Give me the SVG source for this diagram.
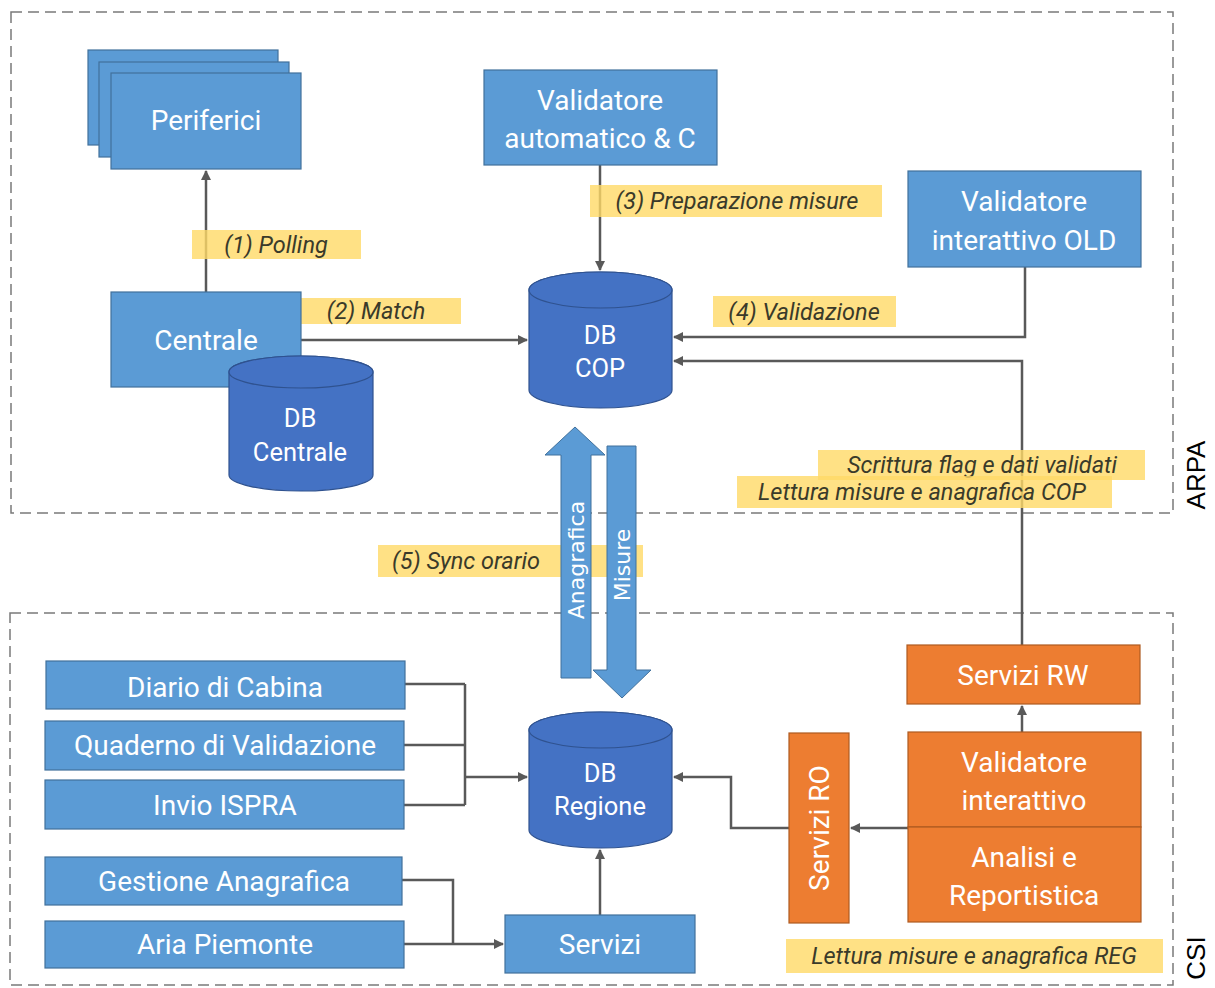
<svg xmlns="http://www.w3.org/2000/svg" width="1215" height="988" viewBox="0 0 1215 988">
<style>
.zone{fill:none;stroke:#7a7a7a;stroke-width:1.5;stroke-dasharray:11 6}
.box{fill:#5B9BD5;stroke:#41719C;stroke-width:1.2}
.obox{fill:#ED7D31;stroke:#AE5A21;stroke-width:1.2}
.db{fill:#4472C4;stroke:#2F528F;stroke-width:1.2}
.t{font-family:Roboto,"Liberation Sans",sans-serif;font-size:28px;fill:#fff;text-anchor:middle}
.d{font-size:25.5px}
.lbl{fill:#FFD966;fill-opacity:0.8}
.lt{font-family:Roboto,"Liberation Sans",sans-serif;font-style:italic;font-size:23.5px;fill:#3a3a2a;text-anchor:middle}
.con{fill:none;stroke:#595959;stroke-width:2.5}
.side{font-family:"Liberation Sans",Arial,sans-serif;font-size:26px;fill:#000;text-anchor:middle}
.sync{fill:#5B9BD5;stroke:#41719C;stroke-width:1}
.st{font-family:"DejaVu Sans",Verdana,sans-serif;font-size:22px;fill:#fff;text-anchor:middle}
</style>
<defs>
<marker id="arr" viewBox="0 0 10 10" refX="9" refY="5" markerWidth="4" markerHeight="4" orient="auto" markerUnits="strokeWidth">
<path d="M0,0 L10,5 L0,10 Z" fill="#595959"/>
</marker>
</defs>
<rect width="1215" height="988" fill="#fff"/>

<g id="zones">
<rect class="zone" x="11" y="12" width="1162" height="501"/>
<rect class="zone" x="10" y="613" width="1163" height="372"/>
<text class="side" transform="translate(1205,475) rotate(-90)">ARPA</text>
<text class="side" transform="translate(1205,958) rotate(-90)">CSI</text>
</g>

<g id="sync-label">
<rect class="lbl" x="378" y="545" width="265" height="32"/>
<text class="lt" x="466" y="569">(5) Sync orario</text>
</g>

<g id="connectors">
<path class="con" d="M206,292 V171" marker-end="url(#arr)"/>
<path class="con" d="M301,340 H527" marker-end="url(#arr)"/>
<path class="con" d="M600,165 V270" marker-end="url(#arr)"/>
<path class="con" d="M1025,267 V337 H674" marker-end="url(#arr)"/>
<path class="con" d="M1022,645 V361 H674" marker-end="url(#arr)"/>
<path class="con" d="M405,684 H465 M404,745 H465 M404,805 H465 M465,684 V805"/>
<path class="con" d="M465,777 H527" marker-end="url(#arr)"/>
<path class="con" d="M402,880 H453 V944"/>
<path class="con" d="M404,944 H503" marker-end="url(#arr)"/>
<path class="con" d="M600,915 V850" marker-end="url(#arr)"/>
<path class="con" d="M908,828 H851" marker-end="url(#arr)"/>
<path class="con" d="M789,828 H731 V777 H674" marker-end="url(#arr)"/>
<path class="con" d="M1022,732 V706" marker-end="url(#arr)"/>
</g>

<g id="labels">
<rect class="lbl" x="192" y="230" width="169" height="29"/>
<text class="lt" x="276" y="253">(1) Polling</text>
<rect class="lbl" x="292" y="298" width="169" height="26"/>
<text class="lt" x="376" y="319">(2) Match</text>
<rect class="lbl" x="590" y="185" width="292" height="32"/>
<text class="lt" x="737" y="209">(3) Preparazione misure</text>
<rect class="lbl" x="713" y="296" width="183" height="31"/>
<text class="lt" x="804" y="320">(4) Validazione</text>
<rect class="lbl" x="818" y="450" width="327" height="30"/>
<text class="lt" x="982" y="473">Scrittura flag e dati validati</text>
<rect class="lbl" x="737" y="476" width="375" height="32"/>
<text class="lt" x="922" y="500">Lettura misure e anagrafica COP</text>
<rect class="lbl" x="786" y="939" width="377" height="34"/>
<text class="lt" x="974" y="964">Lettura misure e anagrafica REG</text>
</g>

<g id="periferici">
<rect class="box" x="88" y="50" width="190" height="95"/>
<rect class="box" x="99" y="62" width="190" height="95"/>
<rect class="box" x="111" y="73" width="190" height="96"/>
<text class="t" x="206" y="130">Periferici</text>
</g>

<g id="centrale">
<rect class="box" x="111" y="292" width="190" height="95"/>
<text class="t" x="206" y="350">Centrale</text>
</g>

<g id="db-centrale">
<path class="db" d="M229,372 A72,16 0 0 1 373,372 V475 A72,16 0 0 1 229,475 Z"/>
<ellipse class="db" cx="301" cy="372" rx="72" ry="16"/>
<text class="t d" x="300" y="427">DB</text>
<text class="t d" x="300" y="461">Centrale</text>
</g>

<g id="validatore-automatico">
<rect class="box" x="484" y="70" width="233" height="95"/>
<text class="t" x="600" y="110">Validatore</text>
<text class="t" x="600" y="148">automatico &amp; C</text>
</g>

<g id="db-cop">
<path class="db" d="M529,290 A71.5,18 0 0 1 672,290 V390 A71.5,18 0 0 1 529,390 Z"/>
<ellipse class="db" cx="600.5" cy="290" rx="71.5" ry="18"/>
<text class="t d" x="600" y="344">DB</text>
<text class="t d" x="600" y="377">COP</text>
</g>

<g id="validatore-old">
<rect class="box" x="908" y="171" width="233" height="96"/>
<text class="t" x="1024" y="211">Validatore</text>
<text class="t" x="1024" y="250">interattivo OLD</text>
</g>

<g id="sync-arrows">
<path class="sync" d="M561,678 V455 H545 L575,427 L605,455 H591 V678 Z"/>
<text class="st" transform="translate(584,560) rotate(-90)">Anagrafica</text>
<path class="sync" d="M607,446 H636 V670 H651 L622,698 L593,670 H607 Z"/>
<text class="st" transform="translate(630,565) rotate(-90)">Misure</text>
</g>

<g id="diario">
<rect class="box" x="46" y="661" width="359" height="48"/>
<text class="t" x="225" y="697">Diario di Cabina</text>
</g>
<g id="quaderno">
<rect class="box" x="45" y="721" width="359" height="49"/>
<text class="t" x="225" y="755">Quaderno di Validazione</text>
</g>
<g id="ispra">
<rect class="box" x="45" y="780" width="359" height="49"/>
<text class="t" x="225" y="815">Invio ISPRA</text>
</g>
<g id="gestione">
<rect class="box" x="45" y="857" width="357" height="48"/>
<text class="t" x="224" y="891">Gestione Anagrafica</text>
</g>
<g id="aria">
<rect class="box" x="45" y="921" width="359" height="47"/>
<text class="t" x="225" y="954">Aria Piemonte</text>
</g>

<g id="db-regione">
<path class="db" d="M529,730 A71.5,18 0 0 1 672,730 V830 A71.5,18 0 0 1 529,830 Z"/>
<ellipse class="db" cx="600.5" cy="730" rx="71.5" ry="18"/>
<text class="t d" x="600" y="782">DB</text>
<text class="t d" x="600" y="815">Regione</text>
</g>

<g id="servizi">
<rect class="box" x="505" y="915" width="190" height="58"/>
<text class="t" x="600" y="954">Servizi</text>
</g>

<g id="servizi-ro">
<rect class="obox" x="789" y="733" width="60" height="190"/>
<text class="t" transform="translate(829,828) rotate(-90)">Servizi RO</text>
</g>

<g id="servizi-rw">
<rect class="obox" x="907" y="645" width="233" height="59"/>
<text class="t" x="1023" y="685">Servizi RW</text>
</g>

<g id="validatore-interattivo">
<rect class="obox" x="908" y="732" width="233" height="95"/>
<text class="t" x="1024" y="772">Validatore</text>
<text class="t" x="1024" y="810">interattivo</text>
</g>
<g id="analisi">
<rect class="obox" x="908" y="827" width="233" height="95"/>
<text class="t" x="1024" y="867">Analisi e</text>
<text class="t" x="1024" y="905">Reportistica</text>
</g>
</svg>
